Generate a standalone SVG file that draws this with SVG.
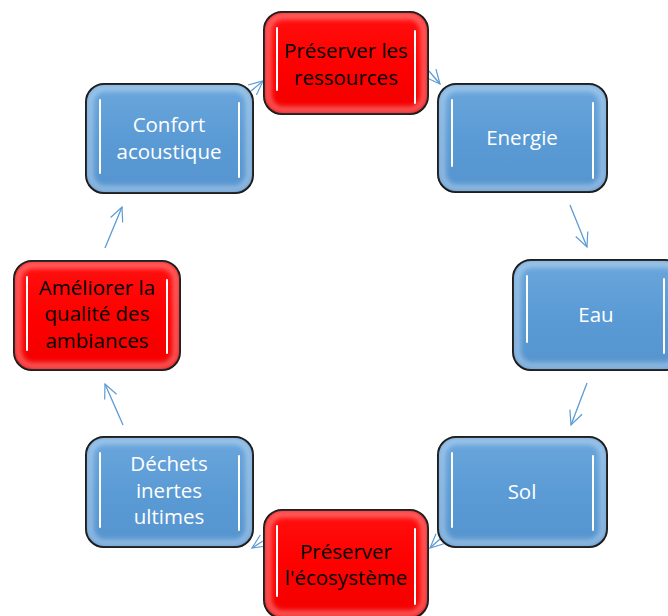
<svg xmlns="http://www.w3.org/2000/svg" width="668" height="616" viewBox="0 0 668 616">
<style>
.box{stroke:#000;stroke-width:2}
.blue{fill:url(#gb)}
.red{fill:url(#gr)}
.glow{fill:none;stroke:#fff;stroke-width:7;opacity:0.35;filter:url(#bl)}
.bar{stroke:#CFF4FF;stroke-width:5;stroke-linecap:round;filter:url(#bg)}
.barc{stroke:#fff;stroke-width:2;stroke-linecap:round}
.tw{font-family:"Open Sans","Liberation Sans",sans-serif;font-size:20.5px;fill:#fff;text-anchor:middle}
.tb{font-family:"Open Sans","Liberation Sans",sans-serif;font-size:20.5px;fill:#000;text-anchor:middle}
.con{fill:none;stroke:#5B9BD5;stroke-width:1.3;marker-end:url(#ar)}
</style>
<defs>
<linearGradient id="gb" x1="0" y1="0" x2="0" y2="1">
<stop offset="0" stop-color="#6AA6DC"/>
<stop offset="0.5" stop-color="#5B9BD5"/>
<stop offset="1" stop-color="#5594CF"/>
</linearGradient>
<linearGradient id="gr" x1="0" y1="0" x2="0" y2="1">
<stop offset="0" stop-color="#FF1010"/>
<stop offset="0.5" stop-color="#FF0000"/>
<stop offset="1" stop-color="#F20000"/>
</linearGradient>
<filter id="bl" x="-10%" y="-10%" width="120%" height="120%"><feGaussianBlur stdDeviation="2.5"/></filter>
<filter id="bg" x="-300%" y="-20%" width="700%" height="140%"><feGaussianBlur stdDeviation="1.5"/></filter>
<marker id="ar" viewBox="0 0 16 16" refX="15" refY="8" markerWidth="16" markerHeight="16" markerUnits="userSpaceOnUse" orient="auto">
<path d="M1,1.5 L15,8 L1,14.5" fill="none" stroke="#5B9BD5" stroke-width="1.2"/>
</marker>
</defs>

<g id="connectors">
<line class="con" x1="251" y1="91" x2="263" y2="81"/>
<line class="con" x1="429" y1="71" x2="440" y2="84"/>
<line class="con" x1="570" y1="205" x2="587" y2="247"/>
<line class="con" x1="587" y1="383" x2="571" y2="425"/>
<line class="con" x1="440" y1="539" x2="430" y2="548"/>
<line class="con" x1="263" y1="541" x2="252" y2="548"/>
<line class="con" x1="123" y1="425" x2="105" y2="384"/>
<line class="con" x1="105" y1="248" x2="122" y2="207"/>
</g>

<g id="n-ressources">
<rect class="box red" x="264" y="12" width="164" height="102" rx="18"/>
<rect class="glow" x="268" y="16" width="156" height="94" rx="15"/>
<line class="bar" x1="277" y1="28" x2="277" y2="90"/><line class="barc" x1="277" y1="28" x2="277" y2="90"/>
<line class="bar" x1="415" y1="31" x2="415" y2="103"/><line class="barc" x1="415" y1="31" x2="415" y2="103"/>
<text class="tb" x="346" y="58">Préserver les</text>
<text class="tb" x="346" y="85">ressources</text>
</g>

<g id="n-energie">
<rect class="box blue" x="438" y="84" width="169" height="108" rx="18"/>
<rect class="glow" x="442" y="88" width="161" height="100" rx="15"/>
<line class="bar" x1="452" y1="100" x2="452" y2="166"/><line class="barc" x1="452" y1="100" x2="452" y2="166"/>
<line class="bar" x1="593" y1="103" x2="593" y2="178"/><line class="barc" x1="593" y1="103" x2="593" y2="178"/>
<text class="tw" x="522" y="145">Energie</text>
</g>

<g id="n-eau">
<rect class="box blue" x="513" y="260" width="170" height="110" rx="18"/>
<rect class="glow" x="517" y="264" width="162" height="102" rx="15"/>
<line class="bar" x1="527" y1="276" x2="527" y2="342"/><line class="barc" x1="527" y1="276" x2="527" y2="342"/>
<line class="bar" x1="664" y1="279" x2="664" y2="353"/><line class="barc" x1="664" y1="279" x2="664" y2="353"/>
<text class="tw" x="596" y="322">Eau</text>
</g>

<g id="n-sol">
<rect class="box blue" x="438" y="437" width="169" height="110" rx="18"/>
<rect class="glow" x="442" y="441" width="161" height="102" rx="15"/>
<line class="bar" x1="452" y1="453" x2="452" y2="527"/><line class="barc" x1="452" y1="453" x2="452" y2="527"/>
<line class="bar" x1="593" y1="456" x2="593" y2="530"/><line class="barc" x1="593" y1="456" x2="593" y2="530"/>
<text class="tw" x="522" y="499">Sol</text>
</g>

<g id="n-ecosysteme">
<rect class="box red" x="264" y="510" width="164" height="108" rx="18"/>
<rect class="glow" x="268" y="514" width="156" height="100" rx="15"/>
<line class="bar" x1="277" y1="526" x2="277" y2="596"/><line class="barc" x1="277" y1="526" x2="277" y2="596"/>
<line class="bar" x1="415" y1="529" x2="415" y2="604"/><line class="barc" x1="415" y1="529" x2="415" y2="604"/>
<text class="tb" x="346" y="559">Préserver</text>
<text class="tb" x="346" y="585">l'écosystème</text>
</g>

<g id="n-dechets">
<rect class="box blue" x="86" y="437" width="167" height="110" rx="18"/>
<rect class="glow" x="90" y="441" width="159" height="102" rx="15"/>
<line class="bar" x1="100" y1="453" x2="100" y2="527"/><line class="barc" x1="100" y1="453" x2="100" y2="527"/>
<line class="bar" x1="239" y1="456" x2="239" y2="530"/><line class="barc" x1="239" y1="456" x2="239" y2="530"/>
<text class="tw" x="169" y="471">Déchets</text>
<text class="tw" x="169" y="498">inertes</text>
<text class="tw" x="169" y="524">ultimes</text>
</g>

<g id="n-ambiances">
<rect class="box red" x="14" y="261" width="166" height="109" rx="18"/>
<rect class="glow" x="18" y="265" width="158" height="101" rx="15"/>
<line class="bar" x1="27" y1="277" x2="27" y2="350"/><line class="barc" x1="27" y1="277" x2="27" y2="350"/>
<line class="bar" x1="167" y1="280" x2="167" y2="353"/><line class="barc" x1="167" y1="280" x2="167" y2="353"/>
<text class="tb" x="97" y="295">Améliorer la</text>
<text class="tb" x="97" y="321">qualité des</text>
<text class="tb" x="97" y="348">ambiances</text>
</g>

<g id="n-confort">
<rect class="box blue" x="86" y="84" width="167" height="109" rx="18"/>
<rect class="glow" x="90" y="88" width="159" height="101" rx="15"/>
<line class="bar" x1="100" y1="100" x2="100" y2="173"/><line class="barc" x1="100" y1="100" x2="100" y2="173"/>
<line class="bar" x1="239" y1="103" x2="239" y2="177"/><line class="barc" x1="239" y1="103" x2="239" y2="177"/>
<text class="tw" x="169" y="132">Confort</text>
<text class="tw" x="169" y="159">acoustique</text>
</g>
</svg>
